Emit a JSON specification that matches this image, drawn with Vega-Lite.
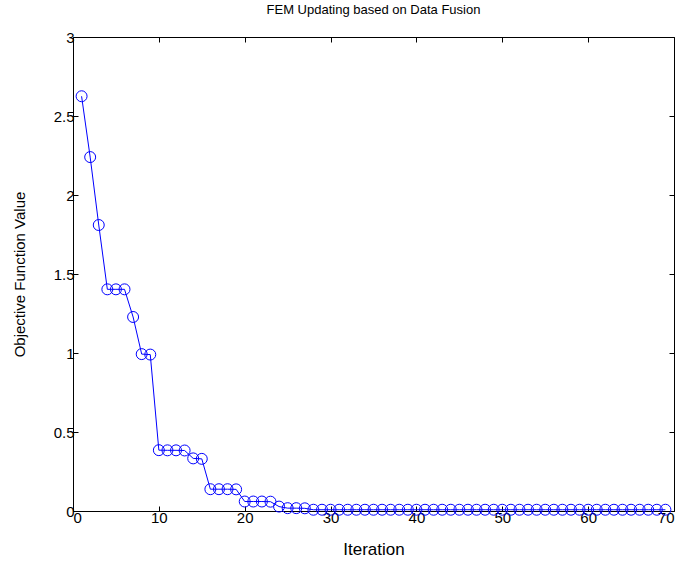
{
  "$schema": "https://vega.github.io/schema/vega-lite/v6.json",
  "width": 601,
  "height": 474,
  "autosize": "none",
  "padding": {"left": 73, "top": 37, "right": 10, "bottom": 52},
  "background": "white",
  "title": {"text": "FEM Updating based on Data Fusion", "font": "Liberation Sans", "fontSize": 13, "fontWeight": "normal", "color": "black", "offset": 13},
  "config": {
    "view": {"stroke": "black", "strokeWidth": 1},
    "axis": {"grid": false, "domainColor": "black", "tickColor": "black", "tickSize": -5, "labelFont": "Liberation Sans", "labelFontSize": 15, "labelColor": "black", "titleFont": "Liberation Sans", "titleColor": "black", "titleFontWeight": "normal", "labelPadding": 4}
  },
  "data": {"values": [
    {"iter": 1, "val": 2.625}, {"iter": 2, "val": 2.24}, {"iter": 3, "val": 1.81}, {"iter": 4, "val": 1.403},
    {"iter": 5, "val": 1.403}, {"iter": 6, "val": 1.403}, {"iter": 7, "val": 1.228}, {"iter": 8, "val": 0.993},
    {"iter": 9, "val": 0.99}, {"iter": 10, "val": 0.385}, {"iter": 11, "val": 0.384}, {"iter": 12, "val": 0.384},
    {"iter": 13, "val": 0.383}, {"iter": 14, "val": 0.333}, {"iter": 15, "val": 0.33}, {"iter": 16, "val": 0.138},
    {"iter": 17, "val": 0.138}, {"iter": 18, "val": 0.138}, {"iter": 19, "val": 0.137}, {"iter": 20, "val": 0.06},
    {"iter": 21, "val": 0.06}, {"iter": 22, "val": 0.06}, {"iter": 23, "val": 0.059}, {"iter": 24, "val": 0.028},
    {"iter": 25, "val": 0.018}, {"iter": 26, "val": 0.018}, {"iter": 27, "val": 0.017}, {"iter": 28, "val": 0.008},
    {"iter": 29, "val": 0.008}, {"iter": 30, "val": 0.008}, {"iter": 31, "val": 0.008}, {"iter": 32, "val": 0.008},
    {"iter": 33, "val": 0.008}, {"iter": 34, "val": 0.008}, {"iter": 35, "val": 0.008}, {"iter": 36, "val": 0.008},
    {"iter": 37, "val": 0.008}, {"iter": 38, "val": 0.008}, {"iter": 39, "val": 0.008}, {"iter": 40, "val": 0.008},
    {"iter": 41, "val": 0.008}, {"iter": 42, "val": 0.008}, {"iter": 43, "val": 0.008}, {"iter": 44, "val": 0.008},
    {"iter": 45, "val": 0.008}, {"iter": 46, "val": 0.008}, {"iter": 47, "val": 0.008}, {"iter": 48, "val": 0.008},
    {"iter": 49, "val": 0.008}, {"iter": 50, "val": 0.008}, {"iter": 51, "val": 0.008}, {"iter": 52, "val": 0.008},
    {"iter": 53, "val": 0.008}, {"iter": 54, "val": 0.008}, {"iter": 55, "val": 0.008}, {"iter": 56, "val": 0.008},
    {"iter": 57, "val": 0.008}, {"iter": 58, "val": 0.008}, {"iter": 59, "val": 0.008}, {"iter": 60, "val": 0.008},
    {"iter": 61, "val": 0.008}, {"iter": 62, "val": 0.008}, {"iter": 63, "val": 0.008}, {"iter": 64, "val": 0.008},
    {"iter": 65, "val": 0.008}, {"iter": 66, "val": 0.008}, {"iter": 67, "val": 0.008}, {"iter": 68, "val": 0.008},
    {"iter": 69, "val": 0.008}
  ]},
  "layer": [
    {
      "mark": {"type": "line", "color": "#0000ff", "strokeWidth": 1, "point": {"shape": "circle", "filled": false, "stroke": "#0000ff", "strokeWidth": 1, "size": 120}},
      "encoding": {
        "x": {"field": "iter", "type": "quantitative", "scale": {"domain": [0, 70], "nice": false, "zero": false}, "axis": {"values": [0,10,20,30,40,50,60,70], "format": "d", "title": "Iteration", "titleFontSize": 17, "titlePadding": 16, "domain": false}},
        "y": {"field": "val", "type": "quantitative", "scale": {"domain": [0, 3], "nice": false}, "axis": {"values": [0,0.5,1,1.5,2,2.5,3], "format": "~g", "title": "Objective Function Value", "titleFontSize": 15, "titlePadding": 26, "domain": false}}
      }
    },
    {
      "mark": {"type": "point", "opacity": 0},
      "encoding": {
        "x": {"field": "iter", "type": "quantitative", "scale": {"domain": [0, 70], "nice": false, "zero": false}, "axis": {"orient": "top", "values": [0,10,20,30,40,50,60,70], "labels": false, "title": null, "domain": false}},
        "y": {"field": "val", "type": "quantitative", "scale": {"domain": [0, 3], "nice": false}, "axis": {"orient": "right", "values": [0,0.5,1,1.5,2,2.5,3], "labels": false, "title": null, "domain": false}}
      }
    }
  ],
  "resolve": {"axis": {"x": "independent", "y": "independent"}}
}
